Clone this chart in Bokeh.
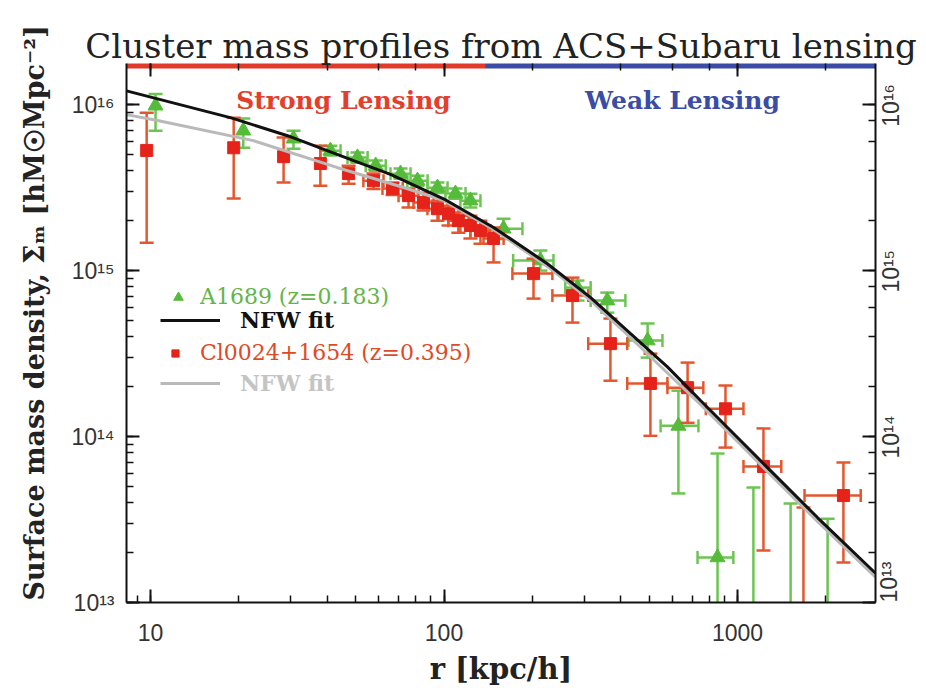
import math
from bokeh.plotting import figure
from bokeh.models import (LogAxis, Label, Legend, LegendItem, CustomJSTickFormatter,
                          ColumnDataSource, Title, Range1d, LogScale, FixedTicker)
from bokeh.embed import file_html
from bokeh.resources import INLINE

NaN = float("nan")

# ---------------- data ----------------
x_limits = (8.28, 2953)
y_limits = (1e13, 1.77e16)
strong_weak_boundary = 138  # kpc/h
right_label_ticks = [1e14, 1e15, 1e16]

# NFW fit for A1689 (black)
nfw_a_r = [8.28, 18.7, 29.3, 49.2, 65.7, 100, 147.5, 225, 316, 432, 577, 748, 1265, 1873, 2953]
nfw_a_s = [1.21e16, 8.35e15, 6.50e15, 4.60e15, 3.80e15, 2.70e15, 1.82e15, 1.10e15,
           6.87e14, 4.17e14, 2.63e14, 1.65e14, 6.50e13, 3.25e13, 1.50e13]

# NFW fit for Cl0024+1654 (grey)
nfw_c_r = [8.28, 10.56, 22.4, 43.4, 71.1, 100, 147.5, 225, 316, 432, 748, 1265, 1873, 2953]
nfw_c_s = [8.71e15, 8.02e15, 6.07e15, 4.17e15, 3.21e15, 2.64e15, 1.77e15, 1.06e15,
           6.59e14, 3.94e14, 1.56e14, 6.15e13, 3.08e13, 1.42e13]

# A1689 (green triangles)
a_r    = [10.4, 20.7, 30.7, 41.0, 50.7, 58.5, 71.1, 81.2, 95.0, 109.4, 123.0, 159.5, 213, 285, 360, 494, 629, 855, 1133, 1517, 2028]
a_s    = [9.86e15, 6.97e15, 6.24e15, 5.28e15, 4.80e15, 4.29e15, 3.84e15, 3.48e15, 3.16e15, 2.91e15, 2.64e15,
          1.79e15, 1.15e15, 7.9e14, 6.6e14, 3.79e14, 1.16e14, 1.87e13, NaN, NaN, NaN]
a_s_lo = [6.97e15, 5.5e15, 5.43e15, 4.93e15, 4.47e15, 4.0e15, 3.58e15, 3.24e15, 2.94e15, 2.71e15, 2.40e15,
          1.55e15, 1.0e15, 6.6e14, 5.58e14, 2.99e14, 4.54e13, 1e12, 1e12, 1e12, 1e12]
a_s_hi = [1.16e16, 8.24e15, 6.97e15, 5.66e15, 5.15e15, 4.6e15, 4.12e15, 3.73e15, 3.39e15, 3.12e15, 2.90e15,
          2.05e15, 1.32e15, 8.71e14, 7.37e14, 4.80e14, 1.89e14, 7.9e13, 4.93e13, 3.95e13, 3.2e13]
a_r_lo = [NaN, NaN, NaN, 37.9, 46.9, 54.1, 65.7, 75.0, 87.8, 101.1, 113.7, 137, 172, 259, 316, 425, 547, 731, NaN, NaN, NaN]
a_r_hi = [NaN, NaN, NaN, 44.4, 54.9, 63.3, 76.9, 87.9, 102.8, 118.4, 133.1, 185, 236, 316, 415, 555, 736, 968, NaN, NaN, NaN]

# Cl0024+1654 (red squares)
c_r    = [9.7, 19.2, 28.4, 37.9, 47.3, 57.5, 66.8, 75.7, 85.1, 95.0, 103.6, 111.9, 123.0, 133.1, 147.5,
          201.8, 274, 369, 505, 676, 910, 1226, 2296, 1678]
c_s    = [5.3e15, 5.5e15, 4.86e15, 4.42e15, 3.84e15, 3.48e15, 3.12e15, 2.83e15, 2.57e15, 2.36e15, 2.20e15,
          2.00e15, 1.87e15, 1.74e15, 1.56e15, 9.59e14, 7.07e14, 3.63e14, 2.09e14, 1.97e14, 1.47e14, 6.60e13,
          4.41e13, NaN]
c_s_lo = [1.47e15, 2.72e15, 3.39e15, 3.25e15, 3.34e15, 3.1e15, 2.85e15, 2.40e15, 2.30e15, 2.00e15, 1.87e15,
          1.69e15, 1.56e15, 1.45e15, 1.12e15, 6.78e14, 4.86e14, 2.17e14, 1.01e14, 1.21e14, 8.58e13, 2.06e13,
          1.74e13, 1e12]
c_s_hi = [8.95e15, 8.35e15, 6.33e15, 5.66e15, 4.29e15, 3.85e15, 3.39e15, 3.12e15, 2.95e15, 2.64e15, 2.46e15,
          2.24e15, 2.14e15, 2.00e15, 1.82e15, 1.18e15, 9.07e14, 5.14e14, 3.16e14, 2.79e14, 2.03e14, 1.12e14,
          6.97e13, 3.74e13]
c_r_lo = [NaN, NaN, NaN, NaN, NaN, 53.1, 61.7, 70.0, 78.7, 87.8, 95.8, 103.4, 113.7, 123.0, 136.3,
          171, 234, 310, 421, 577, 780, 1048, 1692, NaN]
c_r_hi = [NaN, NaN, NaN, NaN, NaN, 62.2, 72.3, 81.9, 92.1, 102.8, 112.1, 121.1, 133.1, 144.0, 159.6,
          234, 310, 421, 577, 765, 1048, 1410, 2630, NaN]

title_text = "Cluster mass profiles from ACS+Subaru lensing"
x_label = "r [kpc/h]"
y_label = "Surface mass density, Σₘ [hM☉Mpc⁻²]"
label_a = "A1689 (z=0.183)"
label_c = "Cl0024+1654 (z=0.395)"
label_fit = "NFW fit"

# ---------------- styles ----------------
GREEN_M = "#55bb3a"
GREEN_E = "#6cc552"
GREEN_T = "#64b447"
RED_M = "#e5231b"
RED_E = "#e4572e"
RED_T = "#df4a26"
BLUE = "#3a4ca6"
SERIF = "DejaVu Serif"
SANS = "Liberation Sans"
LABEL_SHIFT = 10 ** 0.1327   # moves the rotated right-hand labels down ~22px so they centre on their ticks

W, H = 922, 688
p = figure(width=W, height=H, x_axis_type="log", y_axis_type="log",
           x_range=x_limits, y_range=y_limits,
           output_backend="svg", toolbar_location=None,
           min_border_left=126, min_border_right=W - 875, min_border_top=63,
           min_border_bottom=H - 602)
p.xgrid.visible = False
p.ygrid.visible = False
p.outline_line_color = None
p.background_fill_color = "white"
p.extra_y_ranges = {"lab": Range1d(y_limits[0] * LABEL_SHIFT, y_limits[1] * LABEL_SHIFT)}
p.extra_y_scales = {"lab": LogScale()}

sup_code = """
const sup = {"0":"\u2070","1":"\u00b9","2":"\u00b2","3":"\u00b3","4":"\u2074","5":"\u2075","6":"\u2076","7":"\u2077","8":"\u2078","9":"\u2079","-":"\u207b"};
const e = Math.round(Math.log10(tick));
return "10" + String(e).split("").map(c => sup[c]).join("");
"""
first_only_code = "if (index != 0) { return ''; }\n" + sup_code
int_code = "return String(Math.round(tick));"

def style_axis(ax):
    ax.axis_line_width = 2
    ax.axis_line_color = "#111111"
    ax.major_tick_in = 13
    ax.major_tick_out = 0
    ax.minor_tick_in = 7
    ax.minor_tick_out = 0
    ax.major_tick_line_width = 2
    ax.minor_tick_line_width = 1.5
    ax.major_tick_line_color = "#111111"
    ax.minor_tick_line_color = "#111111"
    ax.major_label_text_font = SANS
    ax.major_label_text_font_size = "23px"
    ax.major_label_text_color = "#333333"

xa = p.xaxis[0]
style_axis(xa)
xa.formatter = CustomJSTickFormatter(code=int_code)
xa.major_label_standoff = 21
xa.axis_label = x_label
xa.axis_label_text_font = SERIF
xa.axis_label_text_font_size = "29px"
xa.axis_label_text_font_style = "bold"
xa.axis_label_text_color = "#222222"
xa.axis_label_standoff = 8

ya = p.yaxis[0]
style_axis(ya)
ya.formatter = CustomJSTickFormatter(code=sup_code)
ya.major_label_standoff = 12

# right axis: ticks + the lowest label
ra = LogAxis(formatter=CustomJSTickFormatter(code=first_only_code))
style_axis(ra)
ra.major_label_orientation = math.pi / 2
ra.major_label_standoff = 13
p.add_layout(ra, "right")

# right labels for the upper decades, on a shifted copy of the range so they sit centred on the ticks
ra2 = LogAxis(y_range_name="lab", ticker=FixedTicker(ticks=right_label_ticks, minor_ticks=[]),
              formatter=CustomJSTickFormatter(code=sup_code))
style_axis(ra2)
ra2.axis_line_color = None
ra2.major_tick_in = 0
ra2.major_tick_out = 0
ra2.minor_tick_in = 0
ra2.minor_tick_out = 0
ra2.major_label_orientation = math.pi / 2
ra2.major_label_standoff = -26
p.add_layout(ra2, "right")

ta = LogAxis()
style_axis(ta)
ta.axis_line_color = None
ta.major_label_text_alpha = 0
ta.major_label_text_font_size = "1px"
ta.major_label_standoff = 0
p.add_layout(ta, "above")

# y axis title, as a rotated title panel on the left
p.add_layout(Title(text=y_label, align="left", offset=2, standoff=34, vertical_align="top",
                   text_font=SERIF, text_font_size="27px", text_font_style="bold",
                   text_color="#222222"), "left")
# main title
p.add_layout(Title(text=title_text, align="center", standoff=-4,
                   text_font=SERIF, text_font_size="34px", text_font_style="normal",
                   text_color="#222222"), "above")

# strong / weak lensing bars along the top
p.segment(x0=[x_limits[0]], x1=[strong_weak_boundary], y0=[y_limits[1]], y1=[y_limits[1]],
          line_color="#e23a2a", line_width=10)
p.segment(x0=[strong_weak_boundary], x1=[x_limits[1]], y0=[y_limits[1]], y1=[y_limits[1]],
          line_color=BLUE, line_width=10)

def draw_series(r, s, lo, hi, rlo, rhi, ecolor):
    src = ColumnDataSource(dict(r=r, s=s, lo=lo, hi=hi, rlo=rlo, rhi=rhi))
    p.segment(x0="r", x1="r", y0="lo", y1="hi", source=src, line_color=ecolor, line_width=2.5)
    p.segment(x0="rlo", x1="rhi", y0="s", y1="s", source=src, line_color=ecolor, line_width=2.5)
    p.scatter(x="r", y="lo", source=src, marker="dash", size=14, line_color=ecolor, line_width=2.5)
    p.scatter(x="r", y="hi", source=src, marker="dash", size=14, line_color=ecolor, line_width=2.5)
    p.scatter(x="rlo", y="s", source=src, marker="dash", angle=math.pi / 2, size=13,
              line_color=ecolor, line_width=2.5)
    p.scatter(x="rhi", y="s", source=src, marker="dash", angle=math.pi / 2, size=13,
              line_color=ecolor, line_width=2.5)
    return src

src_a = draw_series(a_r, a_s, a_s_lo, a_s_hi, a_r_lo, a_r_hi, GREEN_E)
pts_a = p.scatter(x="r", y="s", source=src_a, marker="triangle", size=15,
                  fill_color=GREEN_M, line_color=GREEN_M)
src_c = draw_series(c_r, c_s, c_s_lo, c_s_hi, c_r_lo, c_r_hi, RED_E)
pts_c = p.scatter(x="r", y="s", source=src_c, marker="square", size=12,
                  fill_color=RED_M, line_color=RED_M)

fit_c = p.line(nfw_c_r, nfw_c_s, line_color="#b9b9b9", line_width=3)
fit_a = p.line(nfw_a_r, nfw_a_s, line_color="#111111", line_width=3)

# legends (one per row so every label keeps its own colour)
def add_legend(label, renderer, loc, gw, standoff, color, bold):
    lg = Legend(items=[LegendItem(label=label, renderers=[renderer])], location=loc,
                glyph_width=gw, glyph_height=24, label_height=24, label_standoff=standoff,
                padding=0, margin=0, spacing=0, border_line_color=None,
                background_fill_alpha=0, label_text_color=color,
                label_text_font=SERIF, label_text_font_size="22px",
                label_text_font_style="bold" if bold else "normal")
    p.add_layout(lg)

add_legend(label_a, pts_a, (39, 293), 26, 9, GREEN_T, False)
add_legend(label_fit, fit_a, (34, 269), 60, 20, "#111111", True)
add_legend(label_c, pts_c, (40, 237), 18, 16, RED_T, False)
add_legend(label_fit, fit_c, (34, 206), 60, 20, "#c4c4c4", True)

# strong / weak lensing labels
p.add_layout(Label(x=217, y=502, x_units="screen", y_units="screen", text="Strong Lensing",
                   text_align="center", text_baseline="middle", text_font=SERIF,
                   text_font_size="25px", text_font_style="bold", text_color="#e2402c"))
p.add_layout(Label(x=556, y=502, x_units="screen", y_units="screen", text="Weak Lensing",
                   text_align="center", text_baseline="middle", text_font=SERIF,
                   text_font_size="25px", text_font_style="bold", text_color=BLUE))

open("out.html", "w", encoding="utf-8").write(file_html(p, INLINE))
